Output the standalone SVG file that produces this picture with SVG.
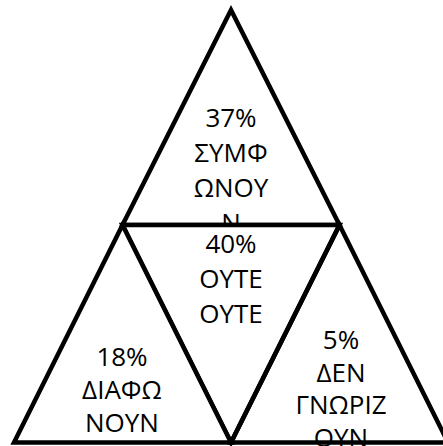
<svg xmlns="http://www.w3.org/2000/svg" width="443" height="446" viewBox="0 0 443 446">
<style>
.tri{fill:#ffffff;stroke:#000000;stroke-width:4.5;stroke-linejoin:miter}
.lbl{font-family:"Open Sans","Noto Sans","DejaVu Sans",sans-serif;font-size:26px;fill:#000000;text-anchor:middle}
</style>
<rect x="0" y="0" width="443" height="446" fill="#ffffff"/>
<g id="node-top">
<polygon class="tri" points="231,10 122.5,225 339.5,225"/>
<text class="lbl" x="231" y="127">37%</text>
<text class="lbl" x="231" y="162">ΣΥΜΦ</text>
<text class="lbl" x="231" y="197">ΩΝΟΥ</text>
<text class="lbl" x="231" y="232">Ν</text>
</g>
<g id="node-middle">
<polygon class="tri" points="122.5,225 339.5,225 231,442.5"/>
<text class="lbl" x="231" y="253">40%</text>
<text class="lbl" x="231" y="288">ΟΥΤΕ</text>
<text class="lbl" x="231" y="323">ΟΥΤΕ</text>
</g>
<g id="node-left">
<polygon class="tri" points="122.5,225 14,442.5 231,442.5"/>
<text class="lbl" x="122" y="366">18%</text>
<text class="lbl" x="122" y="399">ΔΙΑΦΩ</text>
<text class="lbl" x="122" y="432">ΝΟΥΝ</text>
</g>
<g id="node-right">
<text class="lbl" x="341" y="349">5%</text>
<text class="lbl" x="341" y="381.5">ΔΕΝ</text>
<text class="lbl" x="341" y="414">ΓΝΩΡΙΖ</text>
<text class="lbl" x="341" y="447">ΟΥΝ</text>
<polygon fill="none" stroke="#000000" stroke-width="4.5" points="339.5,225 231,442.5 448,442.5"/>
</g>
</svg>
